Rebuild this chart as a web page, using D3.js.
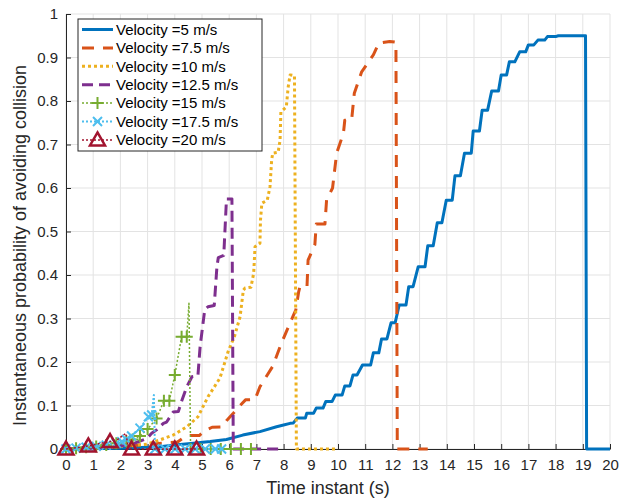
<!DOCTYPE html>
<html>
<head>
<meta charset="utf-8">
<script src="https://cdn.jsdelivr.net/npm/d3@7"></script>
<style>
  html, body { margin: 0; padding: 0; background: #fff; }
  svg { display: block; font-family: "Liberation Sans", Arial, Helvetica, sans-serif; }
</style>
</head>
<body>
<svg id="chart" width="629" height="499"></svg>
<script>
// Probability of avoiding collision over time, one series per vehicle velocity.
// Each point is [time (s), probability].
const velocityLabels = ["Velocity =5 m/s", "Velocity =7.5 m/s", "Velocity =10 m/s",
  "Velocity =12.5 m/s", "Velocity =15 m/s", "Velocity =17.5 m/s", "Velocity =20 m/s"];

const v5 = [[0,0],[1,0.001],[2,0.002],[3,0.004],[3.45,0.005],[4,0.009],[4.68,0.013],[5.3,0.017],
  [5.9,0.022],[6.5,0.032],[7.13,0.04],[7.74,0.051],[8.0,0.055],[8.24,0.059],[8.36,0.06],[8.5,0.071],
  [8.8,0.071],[8.85,0.082],[9.1,0.082],[9.2,0.094],[9.45,0.094],[9.55,0.109],[9.78,0.109],[9.9,0.124],
  [10.15,0.124],[10.25,0.145],[10.44,0.145],[10.55,0.17],[10.7,0.17],[10.9,0.193],[11.2,0.193],
  [11.3,0.221],[11.5,0.221],[11.6,0.253],[11.8,0.253],[11.95,0.29],[12.1,0.29],[12.25,0.331],
  [12.5,0.331],[12.6,0.373],[12.76,0.373],[12.95,0.419],[13.2,0.419],[13.3,0.467],[13.5,0.467],
  [13.65,0.52],[13.82,0.52],[13.98,0.572],[14.2,0.572],[14.3,0.628],[14.5,0.628],[14.65,0.68],
  [14.9,0.68],[14.97,0.731],[15.2,0.731],[15.3,0.779],[15.5,0.779],[15.65,0.823],[15.9,0.823],
  [16.0,0.86],[16.2,0.86],[16.3,0.89],[16.5,0.89],[16.68,0.913],[16.9,0.913],[17.0,0.929],
  [17.2,0.929],[17.35,0.94],[17.6,0.94],[17.7,0.948],[18.0,0.948],[18.1,0.95],[19.1,0.95],
  [19.14,0],[20,0]];

const v7_5 = [[0,0],[0.5,0.001],[1,0.002],[1.5,0.003],[2,0.005],[2.5,0.008],[2.8,0.01],[3.3,0.012],
  [3.7,0.014],[4.1,0.016],[4.3,0.025],[4.56,0.031],[4.9,0.031],[5.1,0.042],[5.37,0.05],[5.74,0.051],
  [5.9,0.065],[6.15,0.082],[6.4,0.1],[6.6,0.113],[6.95,0.114],[7.13,0.143],[7.6,0.19],[7.9,0.24],
  [8.24,0.29],[8.45,0.32],[8.55,0.36],[8.6,0.373],[8.86,0.373],[8.9,0.434],[9.15,0.47],[9.2,0.517],
  [9.52,0.517],[9.58,0.572],[9.8,0.6],[9.95,0.68],[10.2,0.726],[10.25,0.756],[10.5,0.756],
  [10.6,0.818],[10.87,0.867],[11.3,0.906],[11.5,0.933],[11.9,0.937],[12.13,0.935],[12.18,0],[13.3,0]];

const v10 = [[0,0],[0.5,0.001],[1,0.002],[1.5,0.004],[2,0.006],[2.5,0.008],[2.97,0.011],[3.46,0.021],
  [3.94,0.032],[4.44,0.051],[4.85,0.074],[5.22,0.12],[5.66,0.163],[5.96,0.224],[6.2,0.26],
  [6.4,0.304],[6.52,0.365],[6.58,0.37],[6.8,0.372],[6.9,0.404],[6.95,0.465],[7.13,0.473],
  [7.15,0.526],[7.2,0.565],[7.4,0.572],[7.5,0.603],[7.56,0.664],[7.6,0.68],[7.8,0.682],[7.87,0.71],
  [7.9,0.775],[8.1,0.786],[8.17,0.833],[8.24,0.86],[8.4,0.858],[8.47,0],[10.0,0]];

const v12_5 = [[0,0],[0.5,0.001],[1,0.002],[1.5,0.004],[2,0.007],[2.5,0.013],[2.97,0.024],
  [3.15,0.036],[3.33,0.044],[3.58,0.059],[3.7,0.062],[3.94,0.085],[4.13,0.086],[4.25,0.11],
  [4.44,0.143],[4.63,0.166],[4.85,0.168],[4.93,0.235],[5.1,0.32],[5.22,0.327],[5.45,0.33],
  [5.55,0.42],[5.6,0.44],[5.8,0.445],[5.9,0.575],[6.1,0.575],[6.15,0],[8.0,0]];

const v15 = [[0,0],[0.37,0.002],[0.74,0.004],[1.11,0.006],[1.48,0.009],[1.85,0.013],[2.22,0.018],
  [2.45,0.022],[2.72,0.03],[3.0,0.046],[3.33,0.07],[3.6,0.111],[3.8,0.111],[4.0,0.17],[4.25,0.258],
  [4.44,0.258],[4.52,0.335],[4.58,0],[4.95,0],[5.32,0],[5.69,0],[6.06,0],[6.43,0],[6.8,0]];
const v15Marked = [0,1,2,3,4,5,6,7,8,9,10,11,12,13,14,15,17,18,19,20,21,22,23];

const v17_5 = [[0,0],[0.37,0.002],[0.74,0.004],[1.11,0.006],[1.48,0.009],[1.85,0.013],[2.05,0.017],
  [2.22,0.022],[2.41,0.03],[2.72,0.048],[3.03,0.074],[3.15,0.078],[3.23,0.124],[3.27,0],[3.64,0],
  [4.01,0],[4.38,0],[4.75,0],[5.12,0],[5.49,0],[5.72,0]];
const v17_5Marked = [0,1,2,3,4,5,6,7,8,9,10,11,13,14,15,16,17,18,19,20];

const v20 = [[0,0],[0.4,0.003],[0.82,0.007],[1.2,0.012],[1.62,0.017],[1.9,0.022],[2.2,0.036],
  [2.3,0],[2.41,0],[3.21,0],[4.0,0],[4.8,0]];
const v20Marked = [0,2,4,8,9,10,11];

const xTicks = d3.range(0, 21, 1);
const yTicks = [0, 0.1, 0.2, 0.3, 0.4, 0.5, 0.6, 0.7, 0.8, 0.9, 1];
const xTitle = "Time instant (s)";
const yTitle = "Instantaneous probability of avoiding collision";

// Drawing styles per series (MATLAB default colour order)
const series = [
  { data: v5,    color: "#0072BD", width: 3,   dash: null },
  { data: v7_5,  color: "#D95319", width: 3,   dash: "12,9" },
  { data: v10,   color: "#EDB120", width: 3,   dash: "3,3" },
  { data: v12_5, color: "#7E2F8E", width: 3,   dash: "11,6" },
  { data: v15,   color: "#77AC30", width: 1.5, dash: "2,2", marker: "plus",  marked: v15Marked },
  { data: v17_5, color: "#4DBEEE", width: 2,   dash: "2,2", marker: "cross", marked: v17_5Marked },
  { data: v20,   color: "#A2142F", width: 1.5, dash: "2,2", marker: "tri",   marked: v20Marked }
];

const svg = d3.select("#chart");
const margin = { left: 66, right: 19, top: 14, bottom: 50 };
const W = 629 - margin.left - margin.right;
const H = 499 - margin.top - margin.bottom;

const x = d3.scaleLinear().domain([0, 20]).range([0, W]);
const y = d3.scaleLinear().domain([0, 1]).range([H, 0]);

const g = svg.append("g").attr("transform", `translate(${margin.left},${margin.top})`);

// grid
g.append("g").selectAll("line").data(xTicks).join("line")
  .attr("x1", d => x(d)).attr("x2", d => x(d)).attr("y1", 0).attr("y2", H)
  .attr("stroke", "#e3e3e3").attr("stroke-width", 1);
g.append("g").selectAll("line").data(yTicks).join("line")
  .attr("y1", d => y(d)).attr("y2", d => y(d)).attr("x1", 0).attr("x2", W)
  .attr("stroke", "#e3e3e3").attr("stroke-width", 1);

// axes (ticks pointing inward)
const xAxis = g.append("g").attr("transform", `translate(0,${H})`)
  .call(d3.axisBottom(x).tickValues(xTicks).tickFormat(d3.format("d")).tickSizeInner(-5).tickSizeOuter(0).tickPadding(10));
const yAxis = g.append("g")
  .call(d3.axisLeft(y).tickValues(yTicks).tickFormat(d => d === 0 ? "0" : d === 1 ? "1" : d3.format(".1f")(d)).tickSizeInner(-5).tickSizeOuter(0).tickPadding(8));
[xAxis, yAxis].forEach(a => {
  a.select(".domain").attr("stroke", "#262626").attr("stroke-width", 1);
  a.selectAll(".tick line").attr("stroke", "#262626");
  a.selectAll(".tick text").attr("fill", "#262626").attr("font-size", 15)
    .attr("font-family", "Liberation Sans, Arial, sans-serif");
});

// axis titles
svg.append("text").attr("x", margin.left + W / 2 - 10).attr("y", 494)
  .attr("text-anchor", "middle").attr("font-size", 18).attr("fill", "#262626").text(xTitle);
svg.append("text").attr("transform", `translate(26,${margin.top + H / 2 + 14}) rotate(-90)`)
  .attr("text-anchor", "middle").attr("font-size", 18).attr("fill", "#262626").text(yTitle);

// marker shapes
function drawMarker(sel, type, color) {
  if (type === "plus") {
    sel.append("path").attr("d", "M-6,0H6M0,-6V6").attr("stroke", color).attr("stroke-width", 2).attr("fill", "none");
  } else if (type === "cross") {
    sel.append("path").attr("d", "M-4.5,-4.5L4.5,4.5M-4.5,4.5L4.5,-4.5").attr("stroke", color).attr("stroke-width", 2).attr("fill", "none");
  } else if (type === "tri") {
    sel.append("path").attr("d", "M0,-7.5L7.5,5.5H-7.5Z").attr("stroke", color).attr("stroke-width", 2.5)
      .attr("fill", "none").attr("stroke-linejoin", "miter");
  }
}

const line = d3.line().x(d => x(d[0])).y(d => y(d[1]));
const plot = g.append("g");
series.forEach(s => {
  plot.append("path").datum(s.data).attr("d", line)
    .attr("fill", "none").attr("stroke", s.color).attr("stroke-width", s.width)
    .attr("stroke-dasharray", s.dash).attr("stroke-linejoin", "round");
  if (s.marker) {
    s.marked.forEach(i => {
      const p = s.data[i];
      const m = plot.append("g").attr("transform", `translate(${x(p[0])},${y(p[1])})`);
      drawMarker(m, s.marker, s.color);
    });
  }
});

// legend
const lg = svg.append("g").attr("transform", "translate(78,19)");
lg.append("rect").attr("x", 0).attr("y", 0).attr("width", 184).attr("height", 132)
  .attr("fill", "#fff").attr("stroke", "#262626").attr("stroke-width", 1);
series.forEach((s, i) => {
  const cy = 10.5 + i * 18.4;
  lg.append("line").attr("x1", 4).attr("x2", 35).attr("y1", cy).attr("y2", cy)
    .attr("stroke", s.color).attr("stroke-width", s.width).attr("stroke-dasharray", s.dash);
  if (s.marker) {
    const m = lg.append("g").attr("transform", `translate(19.5,${cy})`);
    drawMarker(m, s.marker, s.color);
  }
  lg.append("text").attr("x", 38).attr("y", cy).attr("dy", "0.35em")
    .attr("font-size", 15).attr("fill", "#000").text(velocityLabels[i]);
});
</script>
</body>
</html>
